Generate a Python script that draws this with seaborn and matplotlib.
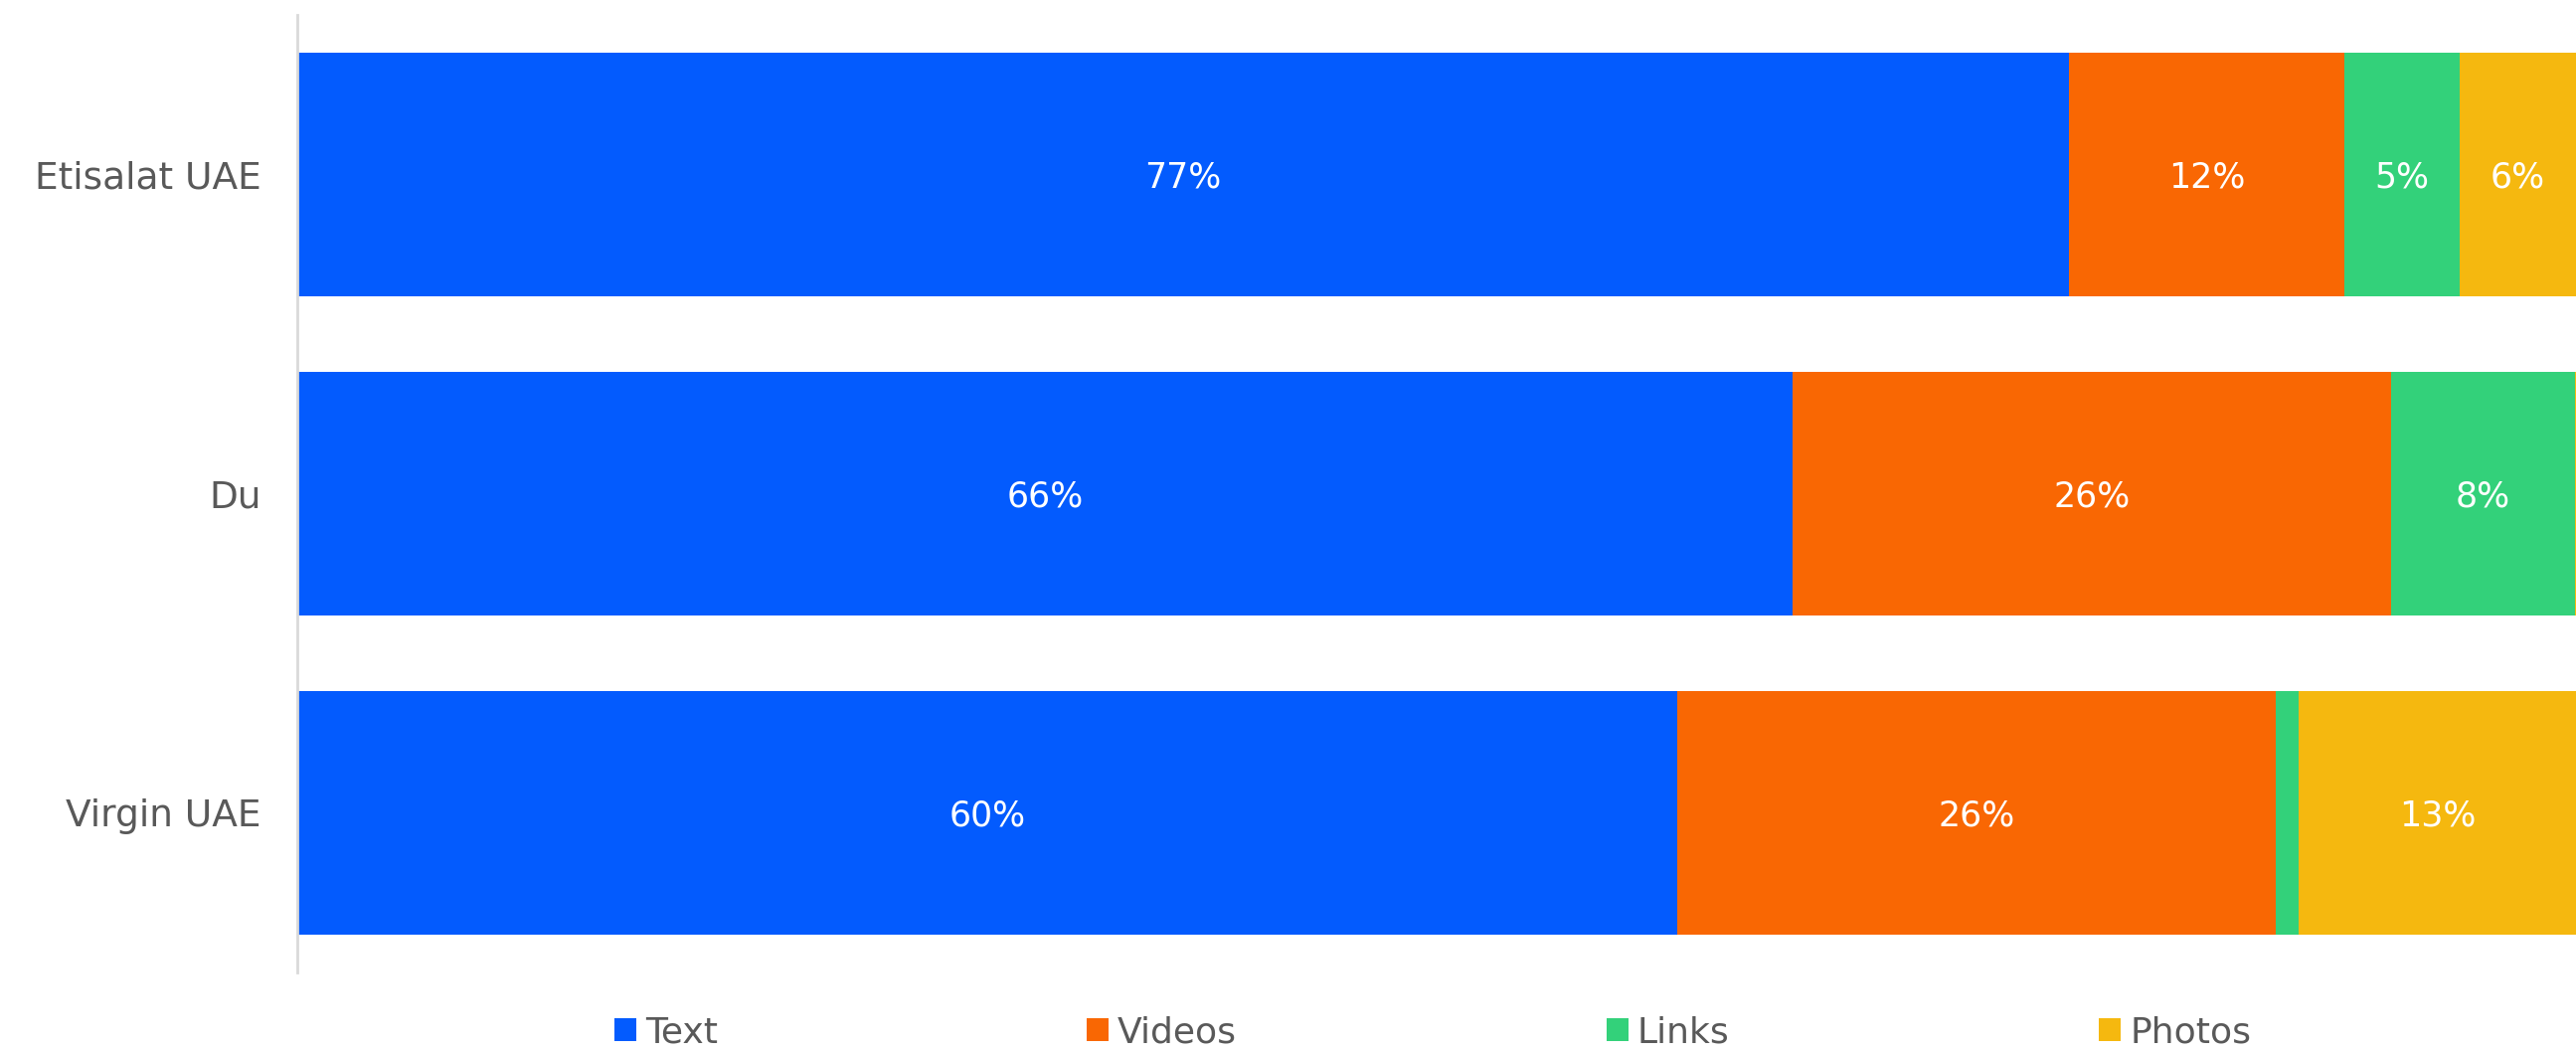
import numpy as np
import pandas as pd
import matplotlib.pyplot as plt
import seaborn as sns

# Share of post types per carrier (%), bar widths
carriers = ['Etisalat UAE', 'Du', 'Virgin UAE']
text = [77, 65, 60]
videos = [12, 26, 26]
links = [5, 8, 1]
photos = [6, 1, 13]

# annotation texts as printed on the bars ('' = no label)
text_lbl = ['77%', '66%', '60%']
videos_lbl = ['12%', '26%', '26%']
links_lbl = ['5%', '8%', '']
photos_lbl = ['6%', '', '13%']

series = ['Text', 'Videos', 'Links', 'Photos']
colors = {'Text': '#035BFE', 'Videos': '#F96703', 'Links': '#33D17A', 'Photos': '#F5B80F'}

df = pd.DataFrame({'carrier': carriers, 'Text': text, 'Videos': videos,
                   'Links': links, 'Photos': photos})
lbl = pd.DataFrame({'Text': text_lbl, 'Videos': videos_lbl,
                    'Links': links_lbl, 'Photos': photos_lbl})
cum = df[series].cumsum(axis=1)
cum['carrier'] = df['carrier']

sns.set_theme(style='white')
plt.rcParams['font.family'] = ['DejaVu Sans']

fig = plt.figure(figsize=(25.91, 10.59), dpi=100)
ax = fig.add_axes([0.1154, 0.0765, 0.8846, 0.9093])

# stacked bars: draw cumulative totals back to front
for s in reversed(series):
    sns.barplot(data=cum, x=s, y='carrier', color=colors[s], width=0.765,
                saturation=1, linewidth=0, label=s, orient='h', ax=ax)

# the original view cuts the right end of the bars a little
xmax = 99.05
ax.set_xlim(0, xmax)

# segment labels, centred on the visible part of each segment
for i, c in enumerate(carriers):
    for s in series:
        if lbl.loc[i, s]:
            end = min(cum.loc[i, s], xmax)
            start = cum.loc[i, s] - df.loc[i, s]
            ax.text((start + end) / 2, i + 0.01, lbl.loc[i, s], ha='center', va='center',
                    color='white', fontsize=25)

ax.set_xlabel('')
ax.set_ylabel('')
ax.set_xticks([])
ax.tick_params(axis='y', length=0, pad=26, labelsize=27, labelcolor='#595959')
for sp in ['top', 'right', 'bottom']:
    ax.spines[sp].set_visible(False)
ax.spines['left'].set_color('#d9d9d9')
ax.spines['left'].set_linewidth(2)

handles, labels = ax.get_legend_handles_labels()
order = [labels.index(s) for s in series]
if ax.get_legend() is not None:
    ax.get_legend().remove()
fig.legend([handles[k] for k in order], [labels[k] for k in order],
           loc='center', bbox_to_anchor=(0.2385, 0.0198, 0.6353, 0), mode='expand',
           ncol=4, frameon=False, fontsize=26, handlelength=0.6, handleheight=0.6,
           handletextpad=0.25, borderpad=0, borderaxespad=0, labelcolor='#595959')

fig.savefig('out.png', dpi=100)
